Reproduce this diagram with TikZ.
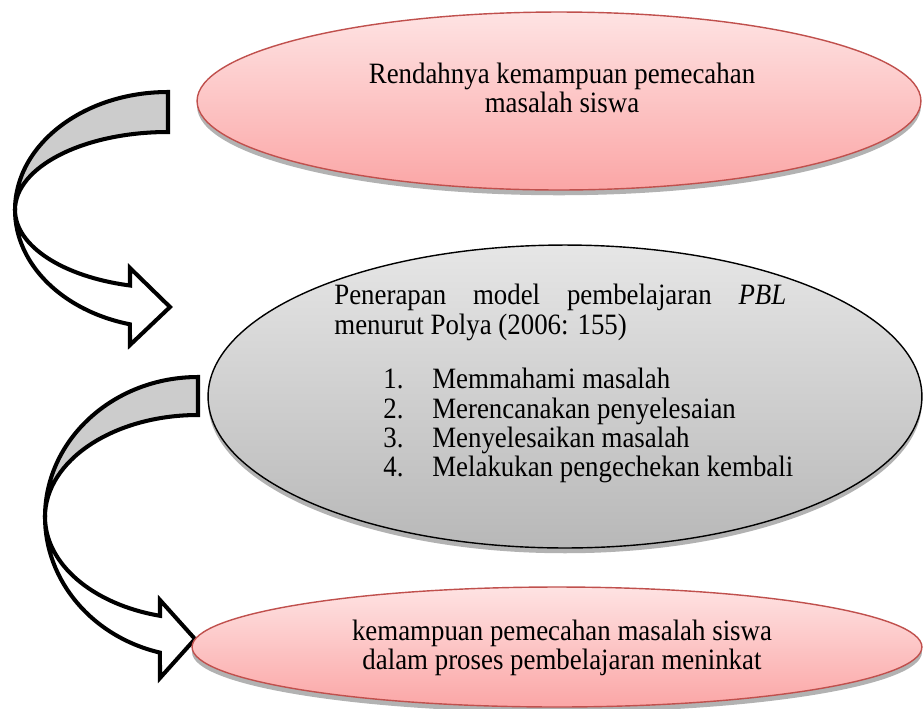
\documentclass[tikz,border=0pt]{standalone}
\usepackage{fontspec}
\setmainfont{Liberation Serif}[FakeStretch=0.91]
\usetikzlibrary{shapes.geometric,shadows}
\definecolor{pinktop}{HTML}{FEE3E3}
\definecolor{pinkbot}{HTML}{FBA6A6}
\definecolor{pinkline}{HTML}{C0504D}
\definecolor{graytop}{HTML}{E6E6E6}
\definecolor{graybot}{HTML}{B8B8B8}
\definecolor{backgray}{HTML}{CCCCCC}
\begin{document}
\begin{tikzpicture}[x=0.02cm,y=0.02cm,
  arrowline/.style={draw=black, line width=2.3pt, line join=miter},
  shadowed/.style={drop shadow={shadow xshift=0pt, shadow yshift=-3pt, opacity=0.3, fill=black}},
  pinkell/.style={ellipse, draw=pinkline, line width=0.8pt, top color=pinktop, bottom color=pinkbot, inner sep=0pt, shadowed},
  grayell/.style={ellipse, draw=black, line width=0.8pt, top color=graytop, bottom color=graybot, inner sep=0pt, shadowed},
  txt/.style={font=\fontsize{16.8pt}{16.6pt}\selectfont, inner sep=0pt, text=black}
]
\useasboundingbox (0,0) rectangle (923,-708);
\clip (0,0) rectangle (923,-708);
\fill[white] (0,0) rectangle (923,-708);

% curved arrow 1
\draw[arrowline, fill=backgray] (168,-92) arc[start angle=90,end angle=180,x radius=153,y radius=118]
  arc[start angle=180,end angle=90,x radius=153,y radius=78] -- cycle;
\draw[arrowline, fill=white] (15,-210) arc[start angle=180,end angle=255.6,x radius=153,y radius=118]
  -- (130,-345) -- (170,-307) -- (130,-268) -- (130,-285.5)
  arc[start angle=255.6,end angle=180,x radius=153,y radius=78] -- cycle;

% curved arrow 2
\draw[arrowline, fill=backgray] (198,-377) arc[start angle=90,end angle=180,x radius=153,y radius=140]
  arc[start angle=180,end angle=90,x radius=153,y radius=102] -- cycle;
\draw[arrowline, fill=white] (45,-517) arc[start angle=180,end angle=255.6,x radius=153,y radius=140]
  -- (160,-678) -- (195,-639) -- (160,-600) -- (160,-615.8)
  arc[start angle=255.6,end angle=180,x radius=153,y radius=102] -- cycle;

% ellipses
\node[pinkell, minimum width=14.48cm, minimum height=3.56cm] (top) at (559,-101) {};
\node[grayell, minimum width=14.28cm, minimum height=6.06cm] (mid) at (565,-396.5) {};
\node[pinkell, minimum width=14.6cm, minimum height=2.4cm] (bot) at (557,-647) {};

% texts
\node[txt, align=center] (toptext) at (562,-88) {Rendahnya kemampuan pemecahan\\masalah siswa};
\node[txt, anchor=north west, text width=9.04cm, align=justify] (para) at (334,-284)
  {Penerapan model pembelajaran \textit{PBL}\linebreak menurut Polya (2006: 155)};
\node[txt, anchor=north west, align=left] (list) at (383,-368)
  {\makebox[0.98cm][l]{1.}Memmahami masalah\\
   \makebox[0.98cm][l]{2.}Merencanakan penyelesaian\\
   \makebox[0.98cm][l]{3.}Menyelesaikan masalah\\
   \makebox[0.98cm][l]{4.}Melakukan pengechekan kembali};
\node[txt, align=center] (bottext) at (562,-648) {kemampuan pemecahan masalah siswa\\dalam proses pembelajaran meninkat};
\end{tikzpicture}
\end{document}
